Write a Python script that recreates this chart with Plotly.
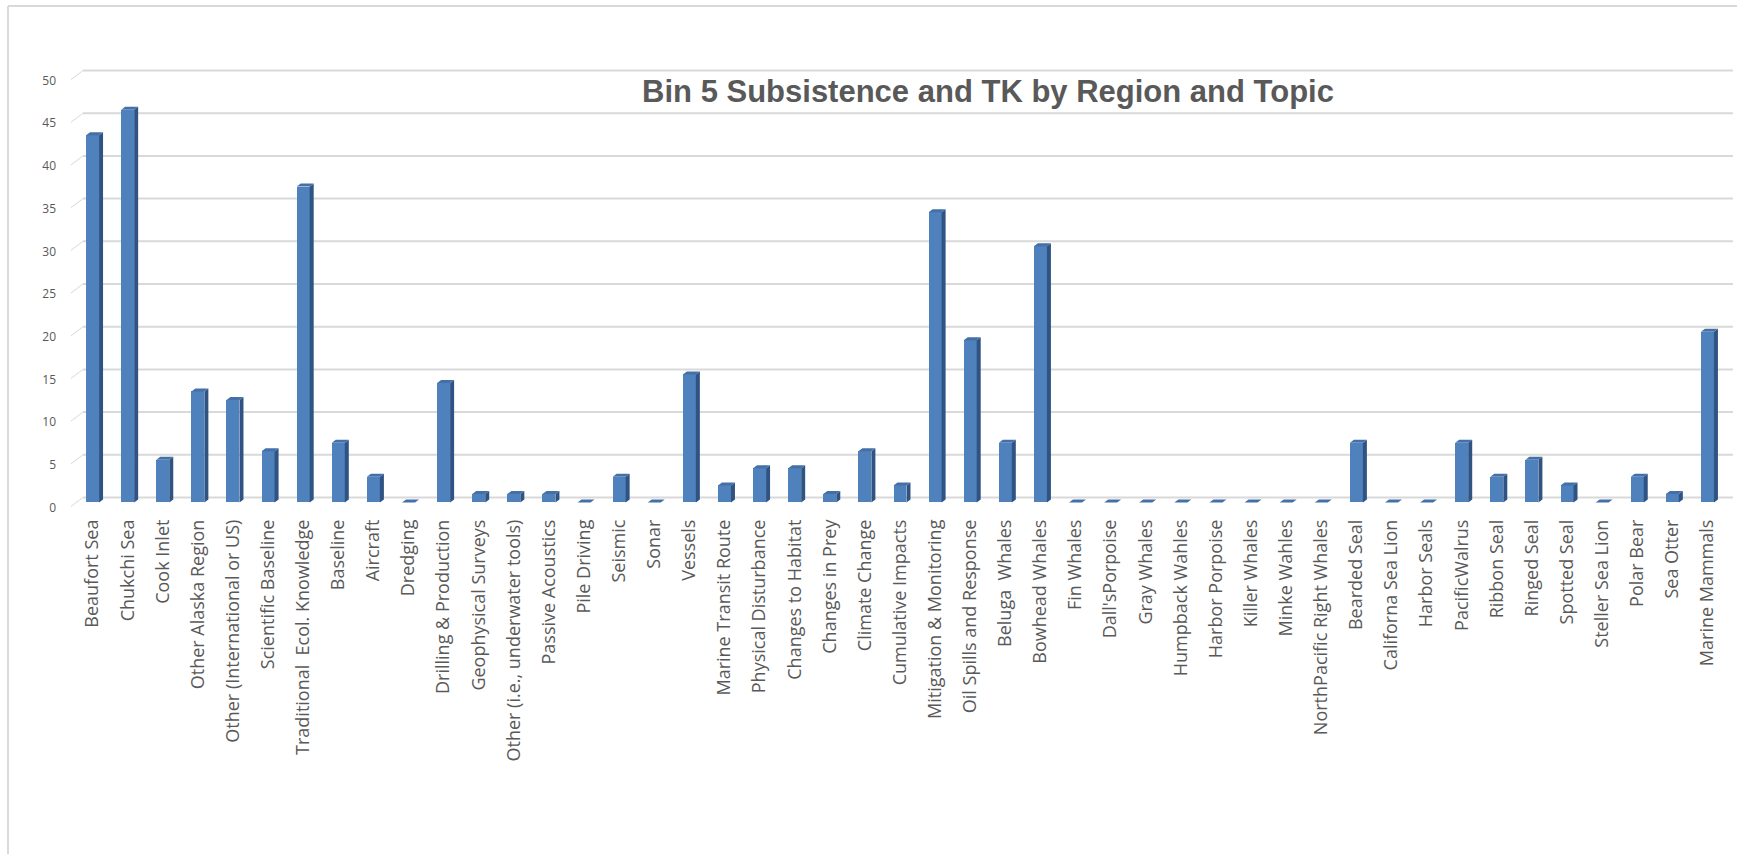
import plotly.graph_objects as go

# Categories (regions, topics and species) and their counts
categories = [
    "Beaufort Sea", "Chukchi Sea", "Cook Inlet", "Other Alaska Region",
    "Other (International or US)", "Scientific Baseline", "Traditional  Ecol. Knowledge",
    "Baseline", "Aircraft", "Dredging", "Drilling & Production", "Geophysical Surveys",
    "Other (i.e., underwater tools)", "Passive Acoustics", "Pile Driving", "Seismic",
    "Sonar", "Vessels", "Marine Transit Route", "Physical Disturbance",
    "Changes to Habitat", "Changes in Prey", "Climate Change", "Cumulative Impacts",
    "Mitigation & Monitoring", "Oil Spills and Response", "Beluga  Whales",
    "Bowhead Whales", "Fin Whales", "Dall'sPorpoise", "Gray Whales",
    "Humpback Wahles", "Harbor Porpoise", "Killer Whales", "Minke Wahles",
    "NorthPacific Right Whales", "Bearded Seal", "Californa Sea Lion", "Harbor Seals",
    "PacificWalrus", "Ribbon Seal", "Ringed Seal", "Spotted Seal", "Steller Sea Lion",
    "Polar Bear", "Sea Otter", "Marine Mammals",
]
counts = [
    43, 46, 5, 13, 12, 6, 37, 7, 3, 0, 14, 1, 1, 1, 0, 3, 0, 15, 2, 4, 4, 1, 6, 2,
    34, 19, 7, 30, 0, 0, 0, 0, 0, 0, 0, 0, 7, 0, 0, 7, 3, 5, 2, 0, 3, 1, 20,
]
y_ticks = [0, 5, 10, 15, 20, 25, 30, 35, 40, 45, 50]

TITLE = "Bin 5 Subsistence and TK by Region and Topic"

# ---- geometry of the figure (pixels) ----
W, H = 1737, 854
ML, MR, MT, MB = 75, 12, 67, 343
Y_MIN, Y_MAX = -1, 51
n = len(categories)
px_per_cat = (W - ML - MR) / n
px_per_unit = (H - MT - MB) / (Y_MAX - Y_MIN)

def paper_x(px):
    return (px - ML) / (W - ML - MR)

def paper_y(py):
    return (H - MB - py) / (H - MT - MB)

# pseudo-3D bar extrusion
BAR_W = 0.37                      # front face width (category units)
DX = 4 / px_per_cat               # depth offset to the right
DY = 3 / px_per_unit              # depth offset upwards
BACK_DX_PX, BACK_DY_PX = 8, 5     # back wall offset of the grid

FRONT = "#4F81BD"
SIDE = "#2F5383"
TOP = "#4470A8"
GRID = "#D9D9D9"
TEXT = "#595959"

xs = list(range(n))

side_x, side_y, top_x, top_y = [], [], [], []
for i, v in zip(xs, counts):
    xl, xr = i - BAR_W / 2, i + BAR_W / 2
    if v > 0:
        side_x += [xr, xr, xr + DX, xr + DX, xr, None]
        side_y += [0, v, v + DY, DY, 0, None]
    top_x += [xl, xr, xr + DX, xl + DX, xl, None]
    top_y += [v, v, v + DY, v + DY, v, None]

fig = go.Figure()

fig.add_trace(go.Bar(
    x=xs, y=counts, width=BAR_W,
    marker=dict(color=FRONT, line=dict(width=0)),
    hoverinfo="skip", showlegend=False,
))
fig.add_trace(go.Scatter(
    x=side_x, y=side_y, mode="lines", fill="toself", fillcolor=SIDE,
    line=dict(width=0, color=SIDE), hoverinfo="skip", showlegend=False,
))
fig.add_trace(go.Scatter(
    x=top_x, y=top_y, mode="lines", fill="toself", fillcolor=TOP,
    line=dict(width=0, color=TOP), hoverinfo="skip", showlegend=False,
))

shapes = []
# back-wall gridlines and the short perspective connectors to the labels
gx0 = paper_x(ML + BACK_DX_PX)
gx1 = paper_x(W - MR + BACK_DX_PX)
lx0 = paper_x(71)
dy_back = BACK_DY_PX / px_per_unit
dy_label = 4 / px_per_unit
for t in y_ticks:
    shapes.append(dict(type="line", xref="paper", yref="y", x0=gx0, x1=gx1,
                       y0=t + dy_back, y1=t + dy_back,
                       line=dict(color=GRID, width=2), layer="below"))
    shapes.append(dict(type="line", xref="paper", yref="y", x0=lx0, x1=gx0,
                       y0=t - dy_label, y1=t + dy_back,
                       line=dict(color=GRID, width=1), layer="below"))

# chart frame (left and top edges)
shapes.append(dict(type="line", xref="paper", yref="paper",
                   x0=paper_x(8), x1=paper_x(8), y0=paper_y(6), y1=paper_y(H + 2),
                   line=dict(color=GRID, width=2)))
shapes.append(dict(type="line", xref="paper", yref="paper",
                   x0=paper_x(8), x1=paper_x(W + 2), y0=paper_y(6), y1=paper_y(6),
                   line=dict(color=GRID, width=2)))

fig.update_layout(
    width=W, height=H,
    margin=dict(l=ML, r=MR, t=MT, b=MB),
    paper_bgcolor="white", plot_bgcolor="rgba(0,0,0,0)",
    bargap=0,
    shapes=shapes,
    title=dict(
        text="<b>" + TITLE + "</b>",
        x=988 / W, xanchor="center", xref="container",
        y=1 - 91 / H, yanchor="middle", yref="container",
        font=dict(family="Liberation Sans", size=31, color=TEXT),
    ),
    xaxis=dict(
        range=[-0.5, n - 0.5], tickmode="array", tickvals=xs, ticktext=categories,
        tickangle=-90, showgrid=False, zeroline=False, showline=False, ticks="",
        tickfont=dict(family="Open Sans", size=18, color=TEXT),
        ticklabelstandoff=4,
    ),
    yaxis=dict(
        range=[Y_MIN, Y_MAX], tickmode="array", tickvals=y_ticks,
        showgrid=False, zeroline=False, showline=False, ticks="",
        tickfont=dict(family="Open Sans", size=12, color=TEXT),
        ticklabelshift=5, ticklabelstandoff=18,
    ),
)

fig.write_html("out.html")
